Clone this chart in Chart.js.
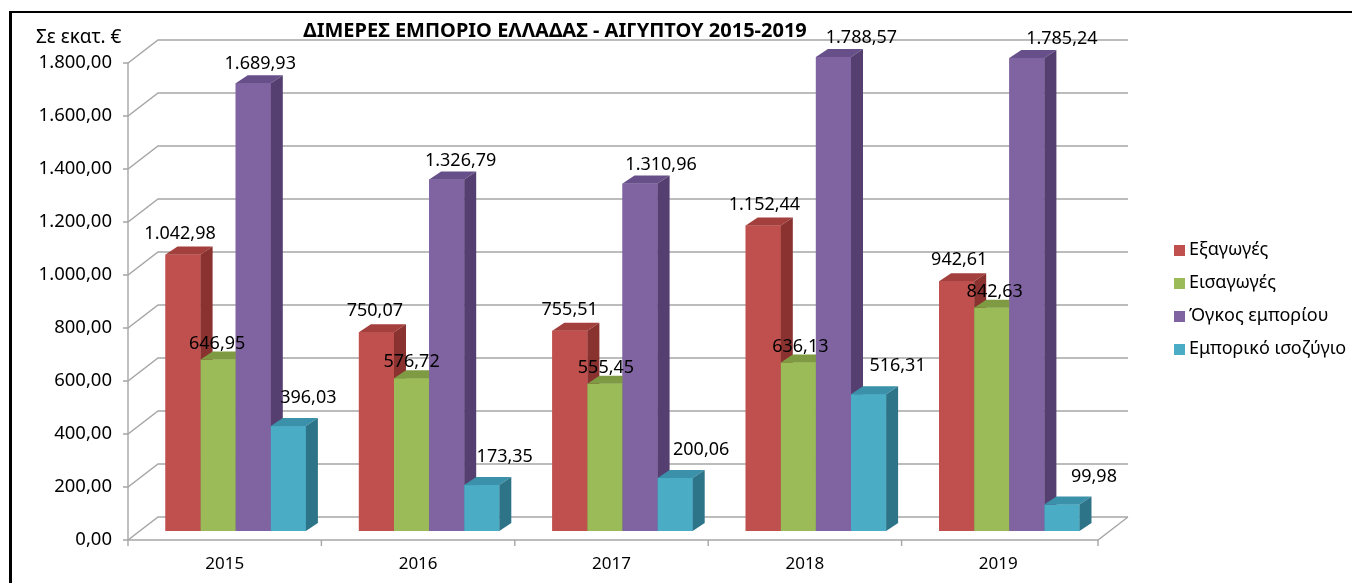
<!DOCTYPE html>
<html>
<head>
<meta charset="utf-8">
<script src="https://cdn.jsdelivr.net/npm/chart.js@4.4.0/dist/chart.umd.min.js"></script>
<style>
html,body{margin:0;padding:0;background:#fff;}
canvas{display:block;}
</style>
</head>
<body>
<canvas id="c" width="1352" height="583"></canvas>
<script>
const categories = ['2015', '2016', '2017', '2018', '2019'];
const exportsVals = [1042.98, 750.07, 755.51, 1152.44, 942.61];
const importsVals = [646.95, 576.72, 555.45, 636.13, 842.63];
const volumeVals = [1689.93, 1326.79, 1310.96, 1788.57, 1785.24];
const balanceVals = [396.03, 173.35, 200.06, 516.31, 99.98];
const seriesNames = ['Εξαγωγές', 'Εισαγωγές', 'Όγκος εμπορίου', 'Εμπορικό ισοζύγιο'];
const chartTitle = 'ΔΙΜΕΡΕΣ ΕΜΠΟΡΙΟ ΕΛΛΑΔΑΣ - ΑΙΓΥΠΤΟΥ 2015-2019';
const unitLabel = 'Σε εκατ. €';
const yMin = 0, yMax = 1800, yStep = 200;

const FONT = '"Noto Sans", "DejaVu Sans", sans-serif';
const faces = [
  {front:'#C0504D', top:'#A33F3C', side:'#8A3230'},
  {front:'#9BBB59', top:'#7E9B43', side:'#6B8736'},
  {front:'#8064A2', top:'#67508A', side:'#553F71'},
  {front:'#4BACC6', top:'#3A91A9', side:'#2E7489'}
];
// label offsets (px) relative to the bar top centre: [dx0, dxSlope, dy]
const labelOff = [[-3, 1.4, -21], [-1, 1, -16], [7, 7, -19], [20, 3, -28]];

function fmt(v) {
  const s = Number(v).toFixed(2).split('.');
  return s[0].replace(/\B(?=(\d{3})+(?!\d))/g, '.') + ',' + s[1];
}

// 3D geometry constants (pixels)
const DX = 12, DY = 8;          // bar depth
const FX = -11, FY = 9;         // front plane offset from bar plane
const BX = 19, BY = -14;        // back wall offset from bar plane

const frame3d = {
  id: 'frame3d',
  beforeDraw(chart) {
    const ctx = chart.ctx;
    ctx.save();
    ctx.fillStyle = '#000';
    ctx.fillRect(9, 11, 3, 583 - 11);
    ctx.fillRect(9, 11, 1352 - 9, 2);
    ctx.restore();
  },
  beforeDatasetsDraw(chart) {
    const {ctx, chartArea: {left, right}, scales: {x, y}} = chart;
    ctx.save();
    ctx.strokeStyle = '#a6a6a6';
    ctx.lineWidth = 1.4;
    for (let v = yMin; v <= yMax; v += yStep) {
      const yp = y.getPixelForValue(v);
      ctx.beginPath();
      ctx.moveTo(left + FX - 5, yp + FY);
      ctx.lineTo(left + FX, yp + FY);
      ctx.lineTo(left + BX, yp + BY);
      ctx.lineTo(right + 22, yp + BY);
      ctx.stroke();
    }
    const y0 = y.getPixelForValue(0), yT = y.getPixelForValue(yMax);
    ctx.beginPath();
    ctx.moveTo(left + FX, yT + FY);
    ctx.lineTo(left + FX, y0 + FY);
    ctx.lineTo(right - 8, y0 + FY);
    ctx.lineTo(right + 22, y0 + BY);
    ctx.stroke();
    const n = categories.length, cw = (right - left) / n;
    for (let i = 0; i <= n; i++) {
      const bx = left + i * cw + FX + (i === n ? 3 : 0);
      ctx.beginPath();
      ctx.moveTo(bx, y0 + FY);
      ctx.lineTo(bx, y0 + FY + 6);
      ctx.stroke();
    }
    // title (drawn over the back-wall gridline, as in the original)
    ctx.fillStyle = '#000';
    ctx.font = 'bold 20px ' + FONT;
    ctx.textAlign = 'center';
    ctx.textBaseline = 'middle';
    ctx.fillText(chartTitle, 555, 31);
    ctx.font = '19px ' + FONT;
    ctx.textAlign = 'left';
    ctx.fillText(unitLabel, 36, 38);
    // legend
    ctx.font = '18px ' + FONT;
    const ly = [250, 283, 316, 349];
    seriesNames.forEach((nm, i) => {
      ctx.fillStyle = faces[i].front;
      ctx.fillRect(1174, ly[i] - 5, 11, 11);
      ctx.fillStyle = '#000';
      ctx.fillText(nm, 1189, ly[i]);
    });
    ctx.restore();
  },
  afterDatasetsDraw(chart) {
    const ctx = chart.ctx;
    const metas = chart.data.datasets.map((d, i) => chart.getDatasetMeta(i));
    ctx.save();
    for (let c = 0; c < categories.length; c++) {
      metas.forEach((m, di) => {
        const el = m.data[c];
        const w = el.width, l = el.x - w / 2, r = el.x + w / 2, t = el.y, b = el.base;
        const f = faces[di];
        ctx.fillStyle = f.front;
        ctx.fillRect(l, t, w, b - t);
        ctx.fillStyle = f.top;
        ctx.beginPath();
        ctx.moveTo(l, t); ctx.lineTo(l + DX, t - DY); ctx.lineTo(r + DX, t - DY); ctx.lineTo(r, t);
        ctx.closePath(); ctx.fill();
        ctx.fillStyle = f.side;
        ctx.beginPath();
        ctx.moveTo(r, t); ctx.lineTo(r + DX, t - DY); ctx.lineTo(r + DX, b - DY); ctx.lineTo(r, b);
        ctx.closePath(); ctx.fill();
      });
    }
    ctx.fillStyle = '#000';
    ctx.font = '18px ' + FONT;
    ctx.textAlign = 'center';
    ctx.textBaseline = 'middle';
    metas.forEach((m, di) => {
      m.data.forEach((el, c) => {
        const o = labelOff[di];
        const v = chart.data.datasets[di].data[c];
        ctx.fillText(fmt(v), el.x + o[0] + o[1] * c, el.y + o[2]);
      });
    });
    ctx.restore();
  }
};

const seriesVals = [exportsVals, importsVals, volumeVals, balanceVals];
new Chart(document.getElementById('c'), {
  type: 'bar',
  data: {
    labels: categories,
    datasets: seriesNames.map((n, i) => ({
      label: n,
      data: seriesVals[i],
      backgroundColor: faces[i].front,
      borderWidth: 0,
      categoryPercentage: 0.726,
      barPercentage: 1
    }))
  },
  options: {
    responsive: false,
    animation: false,
    events: [],
    layout: {padding: {left: 0, top: 54, right: 246, bottom: 0}},
    plugins: {legend: {display: false}, tooltip: {enabled: false}, title: {display: false}},
    scales: {
      x: {
        grid: {display: false, drawTicks: false},
        border: {display: false},
        ticks: {font: {family: FONT, size: 17}, color: '#000', labelOffset: -11, padding: 23},
        afterFit: s => { s.height = 52; }
      },
      y: {
        min: yMin, max: yMax,
        grid: {display: false, drawTicks: false},
        border: {display: false},
        ticks: {stepSize: yStep, callback: v => fmt(v), font: {family: FONT, size: 18.5}, color: '#000', padding: 27, labelOffset: 9},
        afterFit: s => { s.width = 139; }
      }
    }
  },
  plugins: [frame3d]
});
</script>
</body>
</html>
